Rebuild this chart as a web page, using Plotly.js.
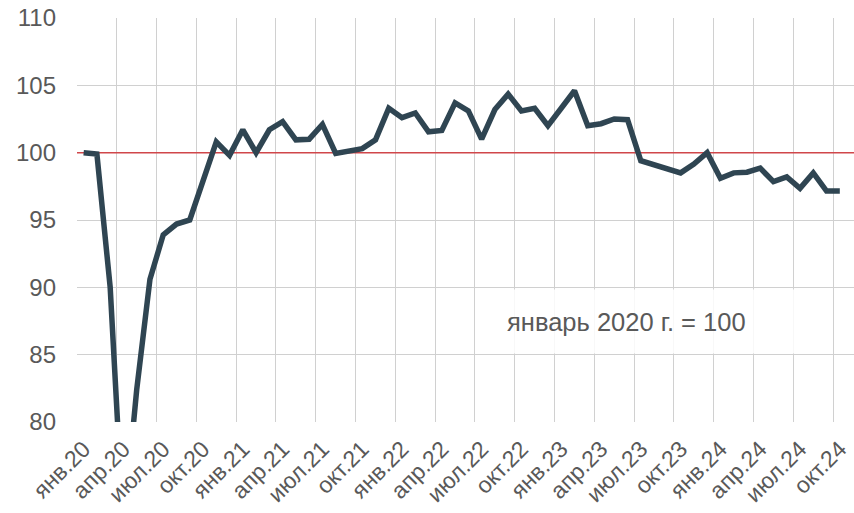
<!DOCTYPE html>
<html>
<head>
<meta charset="utf-8">
<script src="https://cdn.plot.ly/plotly-3.0.1.min.js"></script>
<style>html,body{margin:0;padding:0;background:#fff;}#chart{width:854px;height:513px;}</style>
</head>
<body>
<div id="chart"></div>
<script>
// Months Jan 2020 .. Oct 2024
const monthNames = ['янв','фев','мар','апр','май','июн','июл','авг','сен','окт','ноя','дек'];
const years = ['20','21','22','23','24'];
const values = [
  100.0, 99.9, 90.0, 72.0, 82.4, 90.6, 93.9, 94.7, 95.0, 98.0, 100.8, 99.8,
  101.7, 100.0, 101.7, 102.3, 100.95, 101.0, 102.1, 99.95, 100.1, 100.3, 100.95, 103.3,
  102.6, 102.95, 101.55, 101.65, 103.7, 103.1, 101.0, 103.2, 104.35, 103.1, 103.3, 102.0,
  103.3, 104.6, 102.0, 102.15, 102.5, 102.45, 99.4, 99.1, 98.9, 98.5, 99.15, 100.0,
  98.1, 98.5, 98.55, 98.85, 97.85, 98.2, 97.35, 98.5, 97.15, 97.15
];
const categories = [];
for (let i = 0; i < values.length; i++) {
  categories.push(monthNames[i % 12] + '.' + years[Math.floor(i / 12)]);
}
const tickLabels = categories.filter((c, i) => i % 3 === 0);
const baseLevel = 100;
const noteText = 'январь 2020 г. = 100';

const xIdx = values.map((v, i) => i);
const tickVals = xIdx.filter(i => i % 3 === 0);
const gridVals = tickVals.map(i => i - 0.5);
const xRange = [-0.5, 58.07];

const grey = '#595959';
const font = 'Liberation Sans, Arial, sans-serif';

const gridHelper = {x: [0], y: [null], xaxis: 'x2', type: 'scatter', mode: 'lines', hoverinfo: 'skip'};
const baseTrace = {
  x: xRange, y: [baseLevel, baseLevel], type: 'scatter', mode: 'lines',
  line: {color: '#d0474a', width: 1.5}, hoverinfo: 'skip'
};
const trace = {
  x: xIdx, y: values, type: 'scatter', mode: 'lines',
  line: {color: '#2f4552', width: 5.5},
  text: categories, hoverinfo: 'text+y'
};

const layout = {
  width: 854, height: 513,
  margin: {l: 77, r: 0, t: 18, b: 91},
  paper_bgcolor: '#fff', plot_bgcolor: '#fff',
  showlegend: false,
  font: {family: font, color: grey},
  xaxis: {
    range: xRange, tickmode: 'array', tickvals: tickVals, ticktext: tickLabels,
    tickangle: -45, tickfont: {family: font, size: 23, color: grey},
    ticks: '', showgrid: false, zeroline: false, showline: false,
    ticklabelstandoff: 8
  },
  xaxis2: {
    overlaying: 'x', side: 'bottom', anchor: 'y',
    range: xRange, tickmode: 'array', tickvals: gridVals,
    showticklabels: false, ticks: '',
    showgrid: true, gridcolor: '#d0d0d0', gridwidth: 1,
    zeroline: false, showline: false
  },
  yaxis: {
    range: [80, 110], tickmode: 'array', tickvals: [80, 85, 90, 95, 100, 105, 110],
    tickfont: {family: font, size: 24, color: grey},
    ticks: '', showgrid: true, gridcolor: '#d0d0d0', gridwidth: 1,
    zeroline: false, showline: false, ticklabelstandoff: 20
  },
  annotations: [
    {xref: 'x', yref: 'y', x: 42.2, y: 87.45, text: ' ', showarrow: false,
     bgcolor: 'rgba(255,255,255,0.85)', width: 310, height: 63, borderpad: 0},
    {xref: 'x', yref: 'y', x: 40.9, y: 87.45, text: noteText, showarrow: false,
     font: {family: font, size: 25.5, color: grey}}
  ]
};

Plotly.newPlot('chart', [gridHelper, baseTrace, trace], layout, {displayModeBar: false, staticPlot: true});
</script>
</body>
</html>
